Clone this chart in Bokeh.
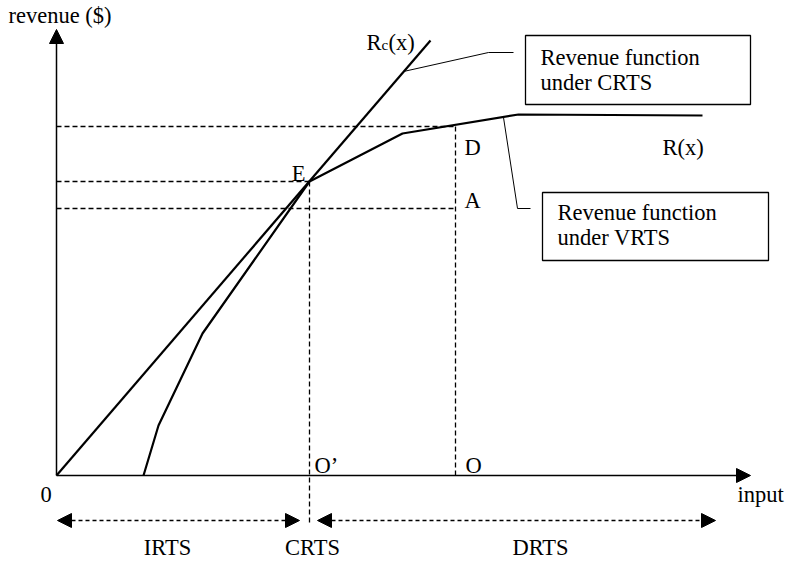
from bokeh.plotting import figure
from bokeh.models import Range1d, Arrow, NormalHead
from bokeh.core.properties import value
from bokeh.embed import file_html
from bokeh.resources import INLINE

# ---- data (input units, revenue units) ----
rc_x = [0.0, 37.4]                       # constant returns revenue line Rc(x)
rc_y = [0.0, 43.5]
r_x = [8.7, 10.2, 14.6, 25.3, 34.6, 46.2, 64.6]   # variable returns revenue R(x)
r_y = [0.0, 5.0, 14.2, 29.4, 34.2, 36.1, 36.0]
e_x, e_y = 25.3, 29.4      # point E (tangency)
d_x, d_y = 39.9, 34.9      # point D (on R(x))
a_y = 26.7                 # point A (on Rc level)
x_axis_end = 69.4
y_axis_end = 44.6
irts_span = [0.1, 24.3]
drts_span = [26.1, 65.9]
region_labels = ["IRTS", "CRTS", "DRTS"]
box_crts = dict(left=46.9, right=69.4, bottom=37.1, top=44.0)
box_vrts = dict(left=48.6, right=71.2, bottom=21.5, top=28.3)
box_texts_crts = ["Revenue function", "under CRTS"]
box_texts_vrts = ["Revenue function", "under VRTS"]
callout_crts_x = [34.7, 43.2, 45.7]
callout_crts_y = [40.4, 42.3, 42.3]
callout_vrts_x = [44.7, 46.1, 47.4]
callout_vrts_y = [35.8, 26.7, 26.7]

FONT = value("Liberation Serif")
FS = value("22.5px")
TSHIFT = 0.8   # compensates the renderer's baseline placement

p = figure(width=787, height=561, x_range=Range1d(-5.6, 73.1), y_range=Range1d(-8.6, 47.5),
           output_backend="svg", toolbar_location=None, min_border=0)
p.axis.visible = False
p.grid.visible = False
p.outline_line_color = None
p.background_fill_color = "white"
p.border_fill_color = "white"

# dashed guide lines
dash = "5 3"
p.segment(x0=[0, 0, 0, e_x, d_x], y0=[d_y, e_y, a_y, e_y, d_y],
          x1=[d_x, e_x, d_x, e_x, d_x], y1=[d_y, e_y, a_y, -4.7, 0],
          line_color="black", line_width=1.3, line_dash=dash)

# axes
head = dict(size=14, fill_color="black", line_color="black")
p.add_layout(Arrow(end=NormalHead(**head), x_start=0, y_start=0, x_end=0, y_end=y_axis_end,
                   line_width=1.5, line_color="black"))
p.add_layout(Arrow(end=NormalHead(**head), x_start=0, y_start=0, x_end=x_axis_end, y_end=0,
                   line_width=1.5, line_color="black"))

# region arrows
arrow_y = -4.5
for s in (irts_span, drts_span):
    p.add_layout(Arrow(start=NormalHead(**head), end=NormalHead(**head),
                       x_start=s[0], y_start=arrow_y, x_end=s[1], y_end=arrow_y,
                       line_width=1.5, line_color="black", line_dash="4 3"))

# revenue curves
p.line(rc_x, rc_y, line_color="black", line_width=2.2)
p.line(r_x, r_y, line_color="black", line_width=2.2)

# callouts
p.line(callout_crts_x, callout_crts_y, line_color="black", line_width=1)
p.line(callout_vrts_x, callout_vrts_y, line_color="black", line_width=1)

# boxes
for b in (box_crts, box_vrts):
    p.quad(left=[b["left"]], right=[b["right"]], bottom=[b["bottom"]], top=[b["top"]],
           fill_color="white", line_color="black", line_width=1.3)

def txt(x, y, s, align="left", size=FS):
    p.text(x=[x], y=[y + TSHIFT], text=[s], text_font=FONT, text_font_size=size,
           text_align=align, text_baseline="alphabetic", text_color="black")

# box texts
txt(box_crts["left"] + 1.5, 41.0, box_texts_crts[0])
txt(box_crts["left"] + 1.5, 38.5, box_texts_crts[1])
txt(box_vrts["left"] + 1.5, 25.5, box_texts_vrts[0])
txt(box_vrts["left"] + 1.5, 23.0, box_texts_vrts[1])

# point labels
txt(e_x - 0.4, e_y, "E", align="right")
txt(d_x + 0.9, 32.0, "D")
txt(d_x + 0.9, a_y, "A")
txt(60.6, 32.0, "R(x)")
txt(e_x + 0.5, 0.2, "O\u2019")
txt(d_x + 1.0, 0.2, "O")
txt(-1.05, -2.7, "0", align="center")
txt(68.1, -2.7, "input")
txt(-4.8, 45.2, "revenue ($)")

# Rc(x) label with subscript
txt(31.0, 42.5, "R")
txt(32.5, 42.3, "c", size=value("15px"))
txt(33.2, 42.5, "(x)")

# region labels
label_y = -8.0
for lab, xc in zip(region_labels, [11.1, e_x + 0.3, 48.4]):
    txt(xc, label_y, lab, align="center")

open("out.html", "w").write(file_html(p, INLINE))
